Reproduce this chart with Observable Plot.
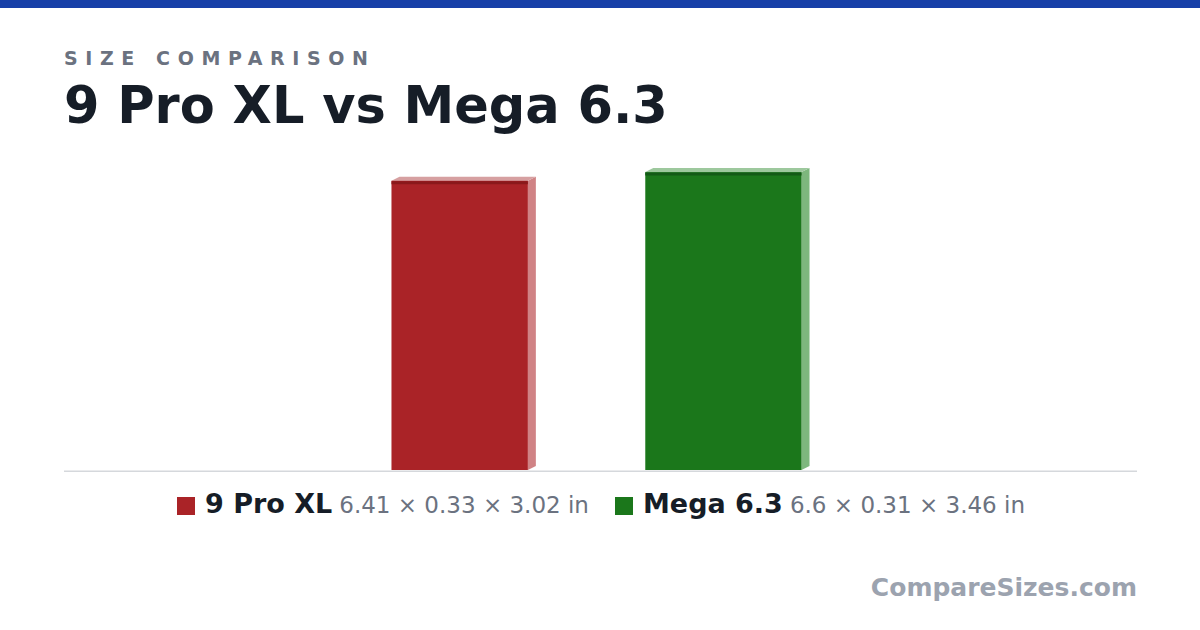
<!DOCTYPE html>
<html>
<head>
<meta charset="utf-8">
<script src="https://cdn.jsdelivr.net/npm/d3@7"></script>
<script src="https://cdn.jsdelivr.net/npm/@observablehq/plot@0.6"></script>
<style>
  html, body { margin: 0; padding: 0; background: #ffffff; }
  body { width: 1200px; height: 630px; position: relative; overflow: hidden; font-family: "DejaVu Sans", sans-serif; }
  #band { position: absolute; left: 0; top: 0; width: 1200px; height: 8px; background: #1740a8; }
  #kicker { position: absolute; left: 64px; top: 49px; font-size: 19px; line-height: 1; font-weight: bold; letter-spacing: 0.4em; color: #6b7280; white-space: nowrap; }
  #title { position: absolute; left: 64px; top: 80px; font-size: 51px; line-height: 1; font-weight: bold; color: #161d27; white-space: nowrap; }
  #chart { position: absolute; left: 0; top: 150px; }
  #legend { position: absolute; left: 1px; top: 490px; width: 1200px; text-align: center; font-size: 27px; line-height: 27px; white-space: nowrap; }
  .item { display: inline-block; margin: 0 13px; }
  .sw { display: inline-block; width: 18px; height: 18px; vertical-align: -2px; margin-right: 10px; }
  .nm { font-weight: bold; color: #161d27; font-size: 27px; }
  .dm { color: #6b7280; font-size: 23px; margin-left: 7px; }
  #mark { position: absolute; right: 63px; top: 575px; font-size: 25px; line-height: 1; font-weight: bold; color: #9ca3af; white-space: nowrap; }
</style>
</head>
<body>
<div id="band"></div>
<div id="kicker">SIZE COMPARISON</div>
<div id="title"></div>
<div id="chart"></div>
<div id="legend"></div>
<div id="mark">CompareSizes.com</div>
<script>
const names = ["9 Pro XL", "Mega 6.3"];
const lengths = [6.41, 6.6];
const thicknesses = [0.33, 0.31];
const widths = [3.02, 3.46];
const bodyColors = ["#aa2327", "#1b771b"];
const topColors = ["#d6a0a1", "#9dc89d"];
const sideColors = ["#d08385", "#7db77d"];
const edgeColors = ["#8a191b", "#135a16"];
const unit = "in";

const gap = 2.6;          // inches between bars
const depthX = 0.177;     // 3D offset
const depthY = 0.0886;

document.getElementById("title").textContent = names[0] + " vs " + names[1];

const totalW = widths[0] + gap + widths[1] + depthX;
let cursor = -totalW / 2;
const bars = names.map((n, i) => {
  const x1 = cursor, x2 = cursor + widths[i];
  cursor = x2 + gap;
  return {name: n, x1, x2, h: lengths[i], i};
});

const marks = [Plot.ruleY([0], {x1: -11.88, x2: 11.88, stroke: "#d5d8dc", strokeWidth: 1.5, dy: 0.75})];
bars.forEach(b => {
  const sidePts = [
    {x: b.x2, y1: 0, y2: b.h},
    {x: b.x2 + depthX, y1: depthY, y2: b.h + depthY}
  ];
  const topPts = [
    {x: b.x1, y1: b.h, y2: b.h},
    {x: b.x1 + depthX, y1: b.h, y2: b.h + depthY},
    {x: b.x2, y1: b.h, y2: b.h + depthY},
    {x: b.x2 + depthX, y1: b.h + depthY, y2: b.h + depthY}
  ];
  marks.push(Plot.areaY(sidePts, {x: "x", y1: "y1", y2: "y2", fill: sideColors[b.i]}));
  marks.push(Plot.areaY(topPts, {x: "x", y1: "y1", y2: "y2", fill: topColors[b.i]}));
  marks.push(Plot.rect([b], {x1: "x1", x2: "x2", y1: 0, y2: "h", fill: bodyColors[b.i]}));
  marks.push(Plot.ruleY([b], {y: "h", x1: "x1", x2: "x2", stroke: edgeColors[b.i], strokeWidth: 3, dy: 1.5}));
});

const plot = Plot.plot({
  width: 1200,
  height: 330,
  marginLeft: 64,
  marginRight: 63,
  marginTop: 0,
  marginBottom: 10,
  x: {domain: [-11.88, 11.88], axis: null},
  y: {domain: [0, 7.09], axis: null},
  style: {background: "transparent"},
  marks
});
document.getElementById("chart").appendChild(plot);

const legend = document.getElementById("legend");
names.forEach((n, i) => {
  const item = document.createElement("span");
  item.className = "item";
  const sw = document.createElement("span");
  sw.className = "sw";
  sw.style.background = bodyColors[i];
  const nm = document.createElement("span");
  nm.className = "nm";
  nm.textContent = n;
  const dm = document.createElement("span");
  dm.className = "dm";
  dm.textContent = `${lengths[i]} × ${thicknesses[i]} × ${widths[i]} ${unit}`;
  item.append(sw, nm, dm);
  legend.appendChild(item);
});
</script>
</body>
</html>
